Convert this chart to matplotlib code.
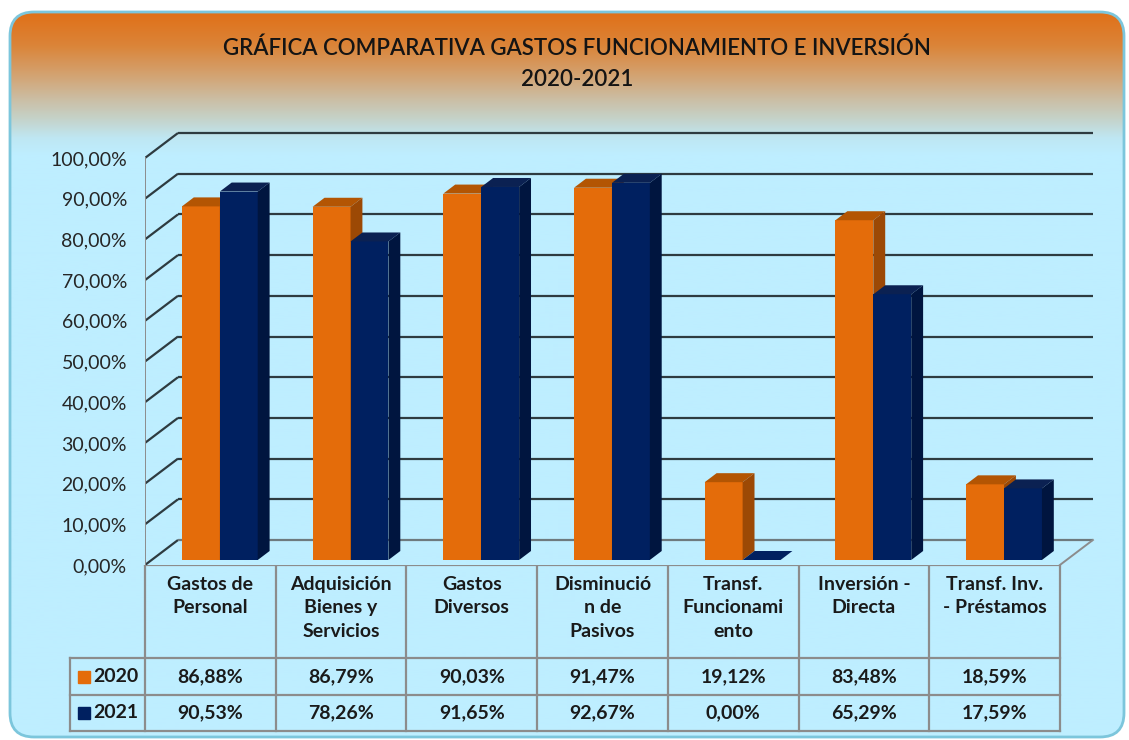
import numpy as np
import matplotlib
matplotlib.use('Agg')
import matplotlib.pyplot as plt
from matplotlib.patches import Polygon, FancyBboxPatch
from matplotlib.colors import to_rgb

# data
CATEGORIES = ['Gastos de\nPersonal', 'Adquisición\nBienes y\nServicios', 'Gastos\nDiversos',
              'Disminució\nn de\nPasivos', 'Transf.\nFuncionami\nento', 'Inversión -\nDirecta',
              'Transf. Inv.\n- Préstamos']
YEARS = ['2020', '2021']
VALUES_2020 = [86.88, 86.79, 90.03, 91.47, 19.12, 83.48, 18.59]
VALUES_2021 = [90.53, 78.26, 91.65, 92.67, 0.00, 65.29, 17.59]
YTICKS = list(range(0, 101, 10))
TITLE = 'GRÁFICA COMPARATIVA GASTOS FUNCIONAMIENTO E INVERSIÓN\n2020-2021'

# style
W, H = 1129, 740
FRONT = ['#E46C0A', '#002060']
TOP = ['#B35503', '#0B2152']
SIDE = ['#9C4905', '#00153F']
GRID = '#2E3B40'
EDGE = '#8C8C8C'
TXT = '#1A1A1A'
FONT = 'Lato'

PX_CAT = 130.7      # px per category
PX_PCT = 4.07       # px per percent
X0, FLOOR = 145, 565
DX, DY = 33 / PX_CAT, 25 / PX_PCT    # back wall offset in data units
BAR_W = 0.29
BAR_OFF = 0.232
B0, B1 = 0.2, 0.56                   # bar depth span (fraction of wall depth)


def pct(v):
    return '{:.2f}%'.format(v).replace('.', ',')


plt.rcParams['font.family'] = [FONT, 'DejaVu Sans']
fig = plt.figure(figsize=(W / 100, H / 100), dpi=100)
fig.patch.set_facecolor('white')

# background panel with gradient
bg = fig.add_axes([0, 0, 1, 1])
bg.set_xlim(0, W)
bg.set_ylim(H, 0)
bg.axis('off')
stops = [(12, '#E07018'), (45, '#DB8438'), (75, '#D3A372'), (100, '#CBBFA6'),
         (118, '#C5D2C8'), (138, '#BFE7F3'), (155, '#BEEEFF'), (740, '#BEEEFF')]
ys = np.arange(12, 740)
cols = np.array([to_rgb(c) for _, c in stops])
sy = np.array([s for s, _ in stops])
grad = np.stack([np.interp(ys, sy, cols[:, k]) for k in range(3)], axis=-1)[:, None, :]
panel = FancyBboxPatch((10, 12), 1114, 725, boxstyle='round,pad=0,rounding_size=24',
                       facecolor='none', edgecolor='#7CC6DC', lw=2, zorder=3)
bg.add_patch(panel)
im = bg.imshow(grad, extent=[10, 1124, 737, 12], aspect='auto', zorder=1)
im.set_clip_path(panel)

fig.text(577 / W, 1 - 64 / H, TITLE, ha='center', va='center', fontsize=16,
         fontweight='semibold', color='#141414', linespacing=1.6)

# chart axes
ax = fig.add_axes([X0 / W, 1 - FLOOR / H, (1100 - X0) / W, (FLOOR - 120) / H])
ax.patch.set_alpha(0)
ax.set_xlim(0, (1100 - X0) / PX_CAT)
ax.set_ylim(0, (FLOOR - 120) / PX_PCT)
for s in ax.spines.values():
    s.set_visible(False)
ax.set_xticks([])
ax.set_yticks(YTICKS)
ax.set_yticklabels([pct(t) for t in YTICKS], fontsize=14, color='#262626')
ax.tick_params(axis='y', length=0, pad=13)

n = len(CATEGORIES)
for g in YTICKS:
    c = '#6E7A7E' if g == 0 else GRID
    ax.plot([0, DX], [g, g + DY], color=GRID, lw=1.6, zorder=1, solid_capstyle='butt')
    ax.plot([DX, n + DX], [g + DY, g + DY], color=c, lw=1.6, zorder=1, solid_capstyle='butt')
ax.plot([0, 0], [0, 100], color=EDGE, lw=1.4, zorder=1)
ax.plot([n, n + DX], [0, DY], color=EDGE, lw=1.4, zorder=1)

for i in range(n):
    for s, vals in enumerate([VALUES_2020, VALUES_2021]):
        v = vals[i]
        x = i + BAR_OFF + s * BAR_W + B0 * DX
        y0 = B0 * DY
        ax.bar(x, v, width=BAR_W, bottom=y0, align='edge', color=FRONT[s], lw=0, zorder=3)
        ddx, ddy = (B1 - B0) * DX, (B1 - B0) * DY
        top = y0 + v
        ax.add_patch(Polygon([(x, top), (x + BAR_W, top), (x + BAR_W + ddx, top + ddy),
                              (x + ddx, top + ddy)], closed=True, color=TOP[s] if v > 0 else FRONT[s],
                             lw=0, zorder=3))
        ax.add_patch(Polygon([(x + BAR_W, y0), (x + BAR_W, top), (x + BAR_W + ddx, top + ddy),
                              (x + BAR_W + ddx, y0 + ddy)], closed=True, color=SIDE[s],
                             lw=0, zorder=3))

# data table
tx0 = 60
tab = fig.add_axes([tx0 / W, 0, (1100 - tx0) / W, (H - FLOOR) / H])
tab.patch.set_alpha(0)
tab.axis('off')
tab.set_xlim((tx0 - X0) / PX_CAT, (1100 - X0) / PX_CAT)
tab.set_ylim(H - FLOOR, 0)
HDR, R1, R2 = 93, 130, 166
LEG = (70 - X0) / PX_CAT
tab.plot([0, n], [0, 0], color=EDGE, lw=1.6)
for y in [HDR, R1, R2]:
    tab.plot([LEG, n], [y, y], color=EDGE, lw=1.6)
for k in range(n + 1):
    tab.plot([k, k], [0, R2], color=EDGE, lw=1.6)
tab.plot([LEG, LEG], [HDR, R2], color=EDGE, lw=1.6)

for i, lab in enumerate(CATEGORIES):
    tab.text(i + 0.5, 11, lab, ha='center', va='top', fontsize=14, fontweight='bold',
             color=TXT, linespacing=1.45)
for r, (yr, vals) in enumerate(zip(YEARS, [VALUES_2020, VALUES_2021])):
    yc = (HDR + R1) / 2 if r == 0 else (R1 + R2) / 2
    tab.plot([(84 - X0) / PX_CAT], [yc], marker='s', ms=9, color=FRONT[r], lw=0)
    tab.text((93 - X0) / PX_CAT, yc, yr, ha='left', va='center', fontsize=14,
             fontweight='bold', color=TXT)
    for i, v in enumerate(vals):
        tab.text(i + 0.5, yc, pct(v), ha='center', va='center', fontsize=14,
                 fontweight='bold', color=TXT)

fig.savefig('out.png', dpi=100)
